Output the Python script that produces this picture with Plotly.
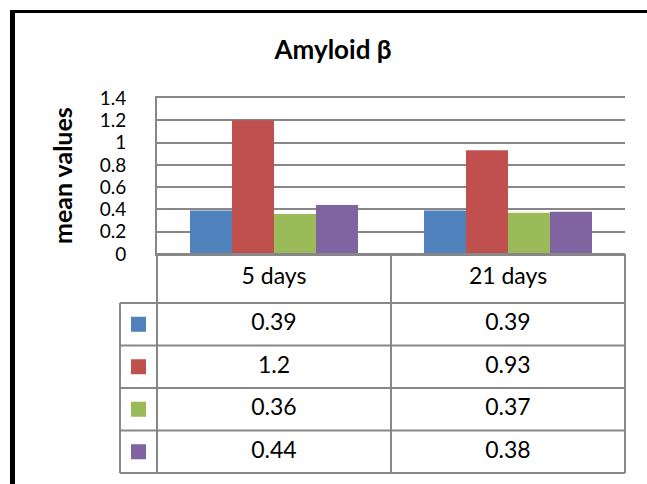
import plotly.graph_objects as go

# ---------------- data ----------------
categories = ["5 days", "21 days"]
series_1 = [0.39, 0.39]
series_2 = [1.2, 0.93]
series_3 = [0.36, 0.37]
series_4 = [0.44, 0.38]
series_values = [series_1, series_2, series_3, series_4]
series_colors = ["#4F81BD", "#C0504D", "#9BBB59", "#8064A2"]
y_tick_values = [0, 0.2, 0.4, 0.6, 0.8, 1.0, 1.2, 1.4]
y_tick_labels = ["0", "0.2", "0.4", "0.6", "0.8", "1", "1.2", "1.4"]
chart_title = "Amyloid β"
y_title = "mean values"

# ---------------- layout geometry (pixels) ----------------
W, H = 647, 484
L, R, T, B = 110, 12, 98, 5
pw, ph = W - L - R, H - T - B
plot_left, plot_right = 157, 625
plot_bottom = 254
legend_left = 120
header_h = 49.0
row_h = 42.5
cat_px = (plot_right - plot_left) / len(categories)
GRID = "#878787"
FONT = "Lato"

def px_to_x2(px):
    return -0.5 + (px - plot_left) / cat_px

def paper_x(px):
    return (px - L) / pw

def paper_y(py):
    return (H - B - py) / ph

hdr = header_h / row_h
n_rows = len(series_values)

fig = go.Figure()

# bars
for vals, col in zip(series_values, series_colors):
    fig.add_trace(go.Bar(x=categories, y=vals, marker=dict(color=col, line=dict(width=0)),
                         showlegend=False, xaxis="x", yaxis="y"))

# table: legend keys
leg_center = px_to_x2((legend_left + plot_left) / 2)
fig.add_trace(go.Scatter(
    x=[leg_center] * n_rows, y=[i + 0.5 for i in range(n_rows)],
    mode="markers", marker=dict(symbol="square", size=15, color=series_colors, line=dict(width=0)),
    showlegend=False, xaxis="x2", yaxis="y2", hoverinfo="skip"))

# table: header text
fig.add_trace(go.Scatter(
    x=list(range(len(categories))), y=[-hdr / 2] * len(categories),
    mode="text", text=categories, textposition="middle center",
    textfont=dict(family=FONT, size=23, color="black"),
    showlegend=False, xaxis="x2", yaxis="y2", hoverinfo="skip"))

# table: values
tx, ty, tt = [], [], []
for r, vals in enumerate(series_values):
    for c, v in enumerate(vals):
        tx.append(c)
        ty.append(r + 0.5)
        tt.append(f"{v:g}")
fig.add_trace(go.Scatter(
    x=tx, y=ty, mode="text", text=tt, textposition="middle center",
    textfont=dict(family=FONT, size=23, color="black"),
    showlegend=False, xaxis="x2", yaxis="y2", hoverinfo="skip"))

shapes = []
line = dict(color=GRID, width=2)
x_leg = px_to_x2(legend_left)
ncat = len(categories)
# horizontal table lines
shapes.append(dict(type="line", xref="x2", yref="y2", x0=-0.5, x1=ncat - 0.5, y0=-hdr, y1=-hdr, line=line))
for r in range(n_rows + 1):
    shapes.append(dict(type="line", xref="x2", yref="y2", x0=x_leg, x1=ncat - 0.5, y0=r, y1=r, line=line))
# vertical table lines
for c in range(ncat + 1):
    shapes.append(dict(type="line", xref="x2", yref="y2", x0=c - 0.5, x1=c - 0.5, y0=-hdr, y1=n_rows, line=line))
shapes.append(dict(type="line", xref="x2", yref="y2", x0=x_leg, x1=x_leg, y0=0, y1=n_rows, line=line))

# black frame (left and top)
shapes.append(dict(type="rect", xref="paper", yref="paper", x0=paper_x(10), x1=paper_x(15),
                   y0=paper_y(484), y1=paper_y(10), fillcolor="black", line=dict(width=0)))
shapes.append(dict(type="rect", xref="paper", yref="paper", x0=paper_x(10), x1=paper_x(647),
                   y0=paper_y(13), y1=paper_y(10), fillcolor="black", line=dict(width=0)))

fig.update_layout(
    template="none",
    width=W, height=H,
    margin=dict(l=L, r=R, t=T, b=B, pad=0, autoexpand=False),
    paper_bgcolor="white", plot_bgcolor="rgba(0,0,0,0)",
    barmode="group", bargap=66 / 234, bargroupgap=0,
    font=dict(family=FONT, color="black"),
    title=dict(text=f"<b>{chart_title}</b>", x=333 / W, xref="container", xanchor="center",
               y=1 - 50 / H, yref="container", yanchor="middle",
               font=dict(family=FONT, size=26, color="black")),
    xaxis=dict(domain=[paper_x(plot_left), paper_x(plot_right)], type="category",
               range=[-0.5, ncat - 0.5], showticklabels=False, showgrid=False, automargin=False,
               showline=True, mirror=True, linecolor=GRID, linewidth=2, ticks="", zeroline=False),
    yaxis=dict(domain=[paper_y(plot_bottom), 1], range=[0, 1.4], tickmode="array", automargin=False,
               tickvals=y_tick_values, ticktext=y_tick_labels, showgrid=True, gridcolor=GRID,
               gridwidth=2, zeroline=False, showline=True, linecolor=GRID, linewidth=2,
               ticks="", ticklabelstandoff=25, tickfont=dict(family=FONT, size=19, color="black")),
    xaxis2=dict(domain=[0, 1], range=[px_to_x2(L), px_to_x2(W - R)], visible=False,
                anchor="y2", automargin=False),
    yaxis2=dict(domain=[0, paper_y(250)], range=[(H - B - plot_bottom) / row_h - hdr, -hdr - 4 / row_h],
                visible=False, anchor="x2", automargin=False),
    shapes=shapes,
    annotations=[dict(text=f"<b>{y_title}</b>", xref="paper", yref="paper", x=paper_x(62),
                      y=paper_y(176), textangle=-90, showarrow=False, xanchor="center",
                      yanchor="middle", font=dict(family=FONT, size=25, color="black"))],
)

fig.write_html("out.html")
